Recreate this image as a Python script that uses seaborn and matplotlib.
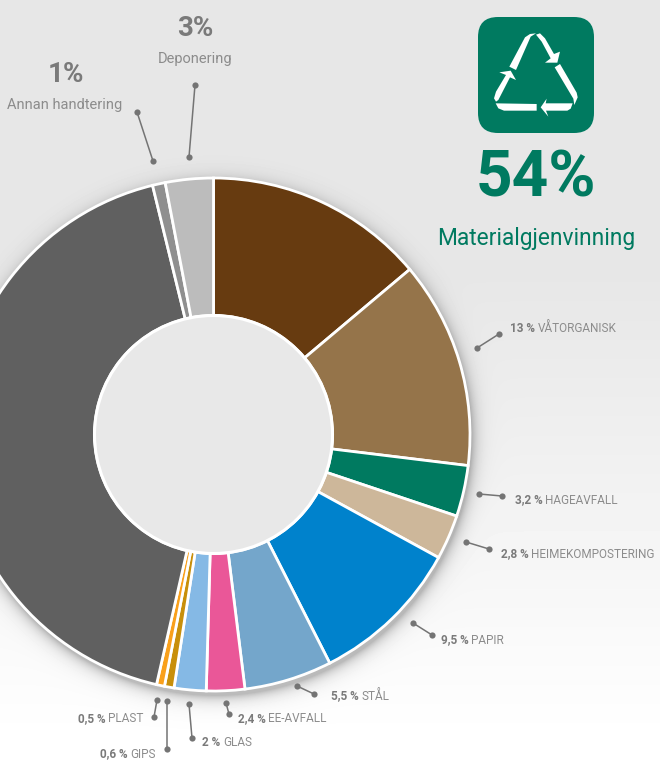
#!/usr/bin/env python3
import matplotlib

matplotlib.use("Agg")
import matplotlib.pyplot as plt
from matplotlib.patches import Circle, FancyBboxPatch, Polygon
import numpy as np
import pandas as pd
import seaborn as sns

SHARES = [13.8, 13, 3.2, 2.8, 9.5, 5.5, 2.4, 2, 0.6, 0.5, 42.4, 0.8, 3]
COLORS = [
    "#673b10", "#95744a", "#007a60", "#cdb79a", "#0082cc", "#74a6cb", "#ea5798",
    "#85b9e5", "#c88f0a", "#f9a01b", "#606060", "#8f8f8f", "#bcbcbc",
]

# small labels: bold value, name, left x, y
SMALL_VALUES = ["13 %", "3,2 %", "2,8 %", "9,5 %", "5,5 %", "2,4 %", "2 %", "0,6 %", "0,5 %"]
SMALL_NAMES = ["VÅTORGANISK", "HAGEAVFALL", "HEIMEKOMPOSTERING", "PAPIR", "STÅL", "EE-AVFALL", "GLAS", "GIPS", "PLAST"]
SMALL_X = [510, 515, 501, 441, 331, 238, 202, 100, 78]
SMALL_Y = [328, 500, 554, 640, 696, 719, 743, 754, 719]

# leader lines, one row per label: x0, y0, x1, y1
LEADERS = [
    (137, 112, 153, 161),
    (195, 85, 189, 157),
    (499, 334, 477, 348),
    (479, 494, 502, 496),
    (466, 542, 489, 549),
    (413, 623, 432, 635),
    (297, 686, 314, 694),
    (226, 703, 229, 714),
    (189, 704, 192, 738),
    (167, 701, 167, 749),
    (157, 700, 154, 717),
]

# recycling arrows, traced in a 3x crop of the icon
ICON_PARTS = [
    [(88, 140), (135, 52), (150, 42), (168, 40), (152, 50), (108, 150)],
    [(168, 44), (180, 40), (195, 55), (222, 102), (240, 95), (232, 128), (195, 128), (212, 115), (185, 65)],
    [(224, 142), (240, 132), (290, 218), (293, 232), (283, 255), (280, 236)],
    [(182, 262), (200, 236), (197, 250), (278, 250), (272, 266), (262, 272), (198, 272), (205, 290)],
    [(47, 250), (170, 252), (170, 272), (72, 272), (55, 265)],
    [(42, 235), (48, 215), (78, 165), (58, 157), (92, 152), (108, 180), (90, 172), (55, 240), (48, 245)],
]

WIDTH, HEIGHT = 660, 761
CX, CY, R_OUT, R_IN = 213.5, 434.5, 256.5, 119
GREEN = "#007a60"
DARK_TXT = "#7a7a7a"
LIGHT_TXT = "#8c8c8c"


def background():
    yy, xx = np.mgrid[0:HEIGHT, 0:WIDTH]
    base = 231 + 25 * np.clip((yy - 280) / (HEIGHT - 280), 0, 1)
    dist = np.hypot(xx - CX - 1.5, yy - CY - 4) - R_OUT
    shadow = 0.26 * np.exp(-np.clip(dist, 0, None) / 6.5)
    img = base * (1 - shadow)
    return np.clip(img, 0, 255) / 255


def small_label(ax, renderer, value, name, x, y):
    bold = ax.text(x, y, value, color=DARK_TXT, fontsize=8.5, fontweight="bold", va="center")
    right = ax.transData.inverted().transform(bold.get_window_extent(renderer))[1, 0]
    ax.text(right + 2.5, y, name, color=LIGHT_TXT, fontsize=8.5, va="center")


def main():
    sns.set_theme(style="white")
    plt.rcParams["font.family"] = ["Roboto", "DejaVu Sans"]

    fig = plt.figure(figsize=(WIDTH / 100, HEIGHT / 100), dpi=100)
    ax = fig.add_axes([0, 0, 1, 1])
    ax.imshow(background(), cmap="gray", vmin=0, vmax=1, extent=(0, WIDTH, HEIGHT, 0), zorder=0)

    # y axis runs downwards, so counterclock here reads clockwise on screen
    ax.pie(
        SHARES,
        colors=COLORS,
        center=(CX, CY),
        radius=R_OUT,
        startangle=-90,
        counterclock=True,
        frame=True,
        wedgeprops={"width": R_OUT - R_IN, "edgecolor": "white", "linewidth": 2},
    )
    ax.add_patch(Circle((CX, CY), R_IN, facecolor="#e8e8e8", edgecolor="white", linewidth=2.2, zorder=3))

    leaders = pd.DataFrame(LEADERS, columns=["x0", "y0", "x1", "y1"])
    for row in leaders.itertuples():
        ax.plot([row.x0, row.x1], [row.y0, row.y1], color="#747474", lw=1.1, zorder=4)
    dots = pd.DataFrame(
        {"x": list(leaders["x0"]) + list(leaders["x1"]), "y": list(leaders["y0"]) + list(leaders["y1"])}
    )
    sns.scatterplot(data=dots, x="x", y="y", color="#747474", s=20, linewidth=0, zorder=5, ax=ax)

    ax.set_xlim(0, WIDTH)
    ax.set_ylim(HEIGHT, 0)
    ax.set_aspect("equal")
    ax.axis("off")

    # headline labels
    ax.text(195, 29, "3%", color=DARK_TXT, fontsize=20, fontweight="bold", ha="center", va="center")
    ax.text(195, 59, "Deponering", color=LIGHT_TXT, fontsize=10.5, ha="center", va="center")
    ax.text(66, 75, "1%", color=DARK_TXT, fontsize=20, fontweight="bold", ha="center", va="center")
    ax.text(65, 105, "Annan handtering", color=LIGHT_TXT, fontsize=10.5, ha="center", va="center")
    ax.text(536, 179, "54%", color=GREEN, fontsize=46, fontweight="bold", ha="center", va="center")
    ax.text(536, 238, "Materialgjenvinning", color=GREEN, fontsize=16.4, ha="center", va="center")

    # icon
    ax.add_patch(
        FancyBboxPatch(
            (498, 37), 76, 76, boxstyle="round,pad=20,rounding_size=20",
            facecolor=GREEN, edgecolor="none", zorder=3,
        )
    )
    for part in ICON_PARTS:
        pts = [(480 + px / 3, 20 + py / 3) for px, py in part]
        ax.add_patch(Polygon(pts, closed=True, facecolor="white", edgecolor="none", zorder=4))

    renderer = fig.canvas.get_renderer()
    for value, name, x, y in zip(SMALL_VALUES, SMALL_NAMES, SMALL_X, SMALL_Y):
        small_label(ax, renderer, value, name, x, y)

    fig.savefig("out.png", dpi=100)


if __name__ == "__main__":
    main()
